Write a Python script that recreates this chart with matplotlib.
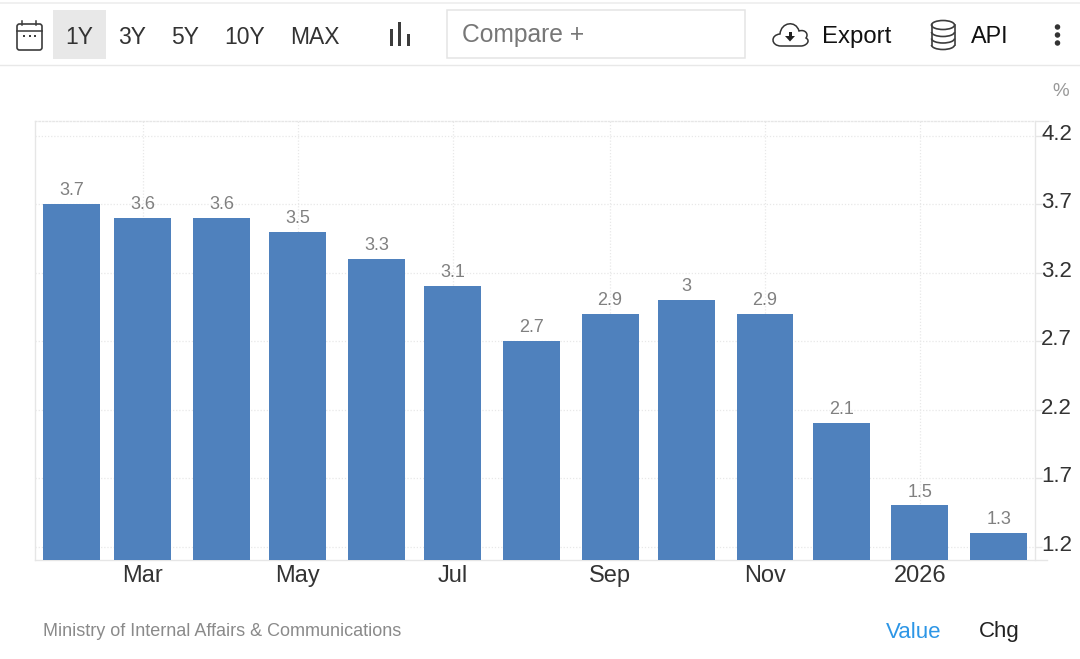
"""Japan inflation rate bar chart with the site toolbar around it."""

import matplotlib
matplotlib.use("Agg")

import matplotlib.dates as mdates
import matplotlib.pyplot as plt
from matplotlib.patches import Arc, Ellipse, FancyBboxPatch, PathPatch, Rectangle
from matplotlib.path import Path
from matplotlib.transforms import ScaledTranslation

plt.rcParams["font.family"] = ["Liberation Sans", "DejaVu Sans"]

# ── Data ────────────────────────────────────────────────────────────
months = ["2025-02-01", "2025-03-01", "2025-04-01", "2025-05-01", "2025-06-01",
          "2025-07-01", "2025-08-01", "2025-09-01", "2025-10-01", "2025-11-01",
          "2025-12-01", "2026-01-01", "2026-02-01"]
values = [3.7, 3.6, 3.6, 3.5, 3.3, 3.1, 2.7, 2.9, 3, 2.9, 2.1, 1.5, 1.3]
y_ticks = [1.2, 1.7, 2.2, 2.7, 3.2, 3.7, 4.2]
x_tick_dates = ["2025-03-01", "2025-05-01", "2025-07-01",
                "2025-09-01", "2025-11-01", "2026-01-01"]
x_tick_labels = ["Mar", "May", "Jul", "Sep", "Nov", "2026"]
range_buttons = ["1Y", "3Y", "5Y", "10Y", "MAX"]

W, H = 1080, 659
BAR_COLOR = "#4f81bd"
GRID = "#e8e8e8"
AXIS = "#e6e6e6"
DARK = "#333333"
ICON = "#3c3c3c"


def draw_chrome(fig):
    """Toolbar and footer, in a full-figure axes with pixel coordinates."""
    ax = fig.add_axes([0, 0, 1, 1], zorder=0)
    ax.set_xlim(0, W)
    ax.set_ylim(H, 0)
    ax.axis("off")

    ax.plot([0, W], [3, 3], color="#eeeeee", lw=1.2)
    ax.plot([0, W], [65, 65], color="#e8e8e8", lw=1.0)
    ax.plot([1035, 1048], [121, 121], color=AXIS, lw=1.0)

    ax.add_patch(Rectangle((53, 10), 53, 49, fc="#e8e8e8", ec="none"))
    for label, x in zip(range_buttons, [79.5, 132, 185, 244.5, 315]):
        ax.text(x, 37, label, fontsize=16.5, color=DARK, ha="center", va="center")

    # calendar
    ax.add_patch(FancyBboxPatch((17, 24), 25, 26, boxstyle="round,pad=0,rounding_size=2.5",
                                fc="none", ec=ICON, lw=1.2))
    ax.plot([17, 42], [31, 31], color=ICON, lw=1.1)
    for x in (22, 36):
        ax.plot([x, x], [20.5, 25], color=ICON, lw=1.1)
    for x in (24, 29.5, 35):
        ax.add_patch(Rectangle((x - 1, 34.5), 2, 2, fc=ICON, ec="none"))

    # bar-chart icon
    for x, top in zip((391, 399, 408), (29, 22, 34)):
        ax.add_patch(Rectangle((x - 1.5, top), 3, 46 - top, fc=ICON, ec="none"))

    # compare box
    ax.add_patch(Rectangle((446.5, 9.5), 298, 48.5, fc="white", ec="#e4e4e4", lw=1.1))
    ax.text(462, 35, "Compare +", fontsize=17.7, color="#777777", ha="left", va="center")

    # cloud icon
    verts = [(781, 46), (771, 46), (770, 35), (780, 34),
             (781, 22), (796, 20), (799, 31),
             (805, 29), (809, 34), (806, 38),
             (811, 41), (806, 46), (801, 46), (781, 46)]
    codes = [Path.MOVETO, Path.CURVE4, Path.CURVE4, Path.CURVE4,
             Path.CURVE4, Path.CURVE4, Path.CURVE4,
             Path.CURVE4, Path.CURVE4, Path.CURVE4,
             Path.CURVE4, Path.CURVE4, Path.CURVE4, Path.LINETO]
    ax.add_patch(PathPatch(Path(verts, codes), fc="none", ec="#333333", lw=1.1))
    ax.add_patch(Rectangle((788.5, 32), 3, 4.5, fc="#222222", ec="none"))
    ax.fill([785, 795, 790], [36, 36, 41.5], color="#222222", lw=0)
    ax.text(822, 37, "Export", fontsize=17.2, color="#111111", ha="left", va="center")

    # database icon
    ax.add_patch(Ellipse((943, 25), 23, 9, fc="none", ec=ICON, lw=1.2))
    ax.plot([931.5, 931.5], [25, 45], color=ICON, lw=1.2)
    ax.plot([954.5, 954.5], [25, 45], color=ICON, lw=1.2)
    for y in (32, 38.5, 45):
        ax.add_patch(Arc((943, y), 23, 9, theta1=0, theta2=180, ec=ICON, lw=1.2))
    ax.text(971, 36.5, "API", fontsize=16.8, color="#111111", ha="left", va="center")

    for y in (27, 35, 43):
        ax.add_patch(Ellipse((1057.5, y), 5.5, 5.5, fc="#333333", ec="none"))

    ax.text(1061, 91.5, "%", fontsize=13.5, color="#999999", ha="center", va="center")
    ax.text(43, 631.5, "Ministry of Internal Affairs & Communications", fontsize=13,
            color="#8a8a8a", ha="left", va="center")
    ax.text(914, 632.5, "Value", fontsize=16, color="#2d96e6", ha="center", va="center")
    ax.text(999.5, 632, "Chg", fontsize=16, color="#222222", ha="center", va="center")


def draw_bars(fig):
    """Monthly bars on a real date axis, with the value axis on the right."""
    left, right, top, bottom = 35, 1035, 121, 560
    ax = fig.add_axes([left / W, 1 - bottom / H, (right - left) / W, (bottom - top) / H],
                      zorder=1)
    ax.patch.set_alpha(0)

    dates = mdates.datestr2num(months)
    tick_pos = mdates.datestr2num(x_tick_dates)

    ax.bar(dates, values, width=22.4, color=BAR_COLOR, zorder=3)
    for x, v in zip(dates, values):
        ax.annotate(str(v), (x, v), xytext=(0, 3.5), textcoords="offset points",
                    ha="center", va="bottom", fontsize=13, color="#808080", zorder=4)

    ax.set_xlim(dates[0] - 14.4, dates[0] + 379.3)
    ax.set_ylim(1.102, 4.307)

    ax.xaxis.tick_bottom()
    ax.yaxis.tick_right()
    ax.set_xticks(tick_pos, x_tick_labels)
    ax.set_yticks(y_ticks, [str(t) for t in y_ticks])
    ax.tick_params(axis="x", length=0, pad=3.5, labelsize=17, labelcolor=DARK)
    ax.tick_params(axis="y", length=5, width=1, color=AXIS, pad=-0.5,
                   labelsize=16, labelcolor=DARK)
    lift = ScaledTranslation(0, 4 / 100, fig.dpi_scale_trans)
    for label in ax.get_yticklabels():
        label.set_transform(label.get_transform() + lift)
    ax.grid(True, color=GRID, linestyle=(0, (1, 1.5)), linewidth=0.9, zorder=1)
    ax.set_axisbelow(True)

    for name in ("top", "left", "right", "bottom"):
        ax.spines[name].set_color(AXIS)
        ax.spines[name].set_linewidth(1.0)
    ax.spines["top"].set_linestyle((0, (1, 1.5)))
    ax.spines["bottom"].set_bounds(dates[0] - 14.4, dates[0] + 384)


def main():
    fig = plt.figure(figsize=(W / 100, H / 100), dpi=100, facecolor="white")
    draw_chrome(fig)
    draw_bars(fig)
    fig.savefig("out.png", dpi=100)
    plt.close(fig)


if __name__ == "__main__":
    main()
